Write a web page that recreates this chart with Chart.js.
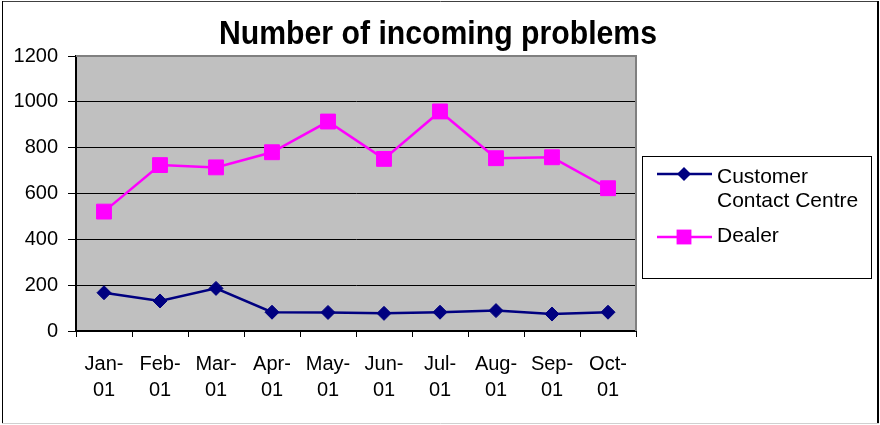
<!DOCTYPE html>
<html>
<head>
<meta charset="utf-8">
<script src="https://cdn.jsdelivr.net/npm/chart.js@4"></script>
<style>
html,body{margin:0;padding:0;background:#fff;}
#wrap{width:880px;height:425px;position:relative;}
</style>
</head>
<body>
<div id="wrap"><canvas id="c" width="880" height="425"></canvas></div>
<script>
const chartTitle = "Number of incoming problems";
const categories = [["Jan-","01"],["Feb-","01"],["Mar-","01"],["Apr-","01"],["May-","01"],["Jun-","01"],["Jul-","01"],["Aug-","01"],["Sep-","01"],["Oct-","01"]];
const customerContactCentre = [167, 131, 186, 82, 81, 77, 82, 89, 74, 82];
const dealer = [521, 724, 714, 780, 914, 751, 958, 754, 758, 623];
const seriesNames = [["Customer","Contact Centre"], ["Dealer"]];
const yTicks = [0, 200, 400, 600, 800, 1000, 1200];

const FONT = "'Liberation Sans', Arial, sans-serif";

const decor = {
  id: 'decor',
  beforeDraw(chart) {
    const ctx = chart.ctx, a = chart.chartArea;
    ctx.save();
    ctx.fillStyle = '#fff';
    ctx.fillRect(0, 0, chart.width, chart.height);
    ctx.fillStyle = '#C0C0C0';
    ctx.fillRect(a.left, a.top, a.right - a.left, a.bottom - a.top);
    ctx.restore();
  },
  beforeDatasetsDraw(chart) {
    const ctx = chart.ctx, a = chart.chartArea;
    ctx.save();
    ctx.strokeStyle = '#808080';
    ctx.lineWidth = 2;
    ctx.beginPath();
    ctx.moveTo(a.left, a.top);
    ctx.lineTo(a.right, a.top);
    ctx.lineTo(a.right, a.bottom);
    ctx.stroke();
    ctx.restore();
  },
  afterDraw(chart) {
    const ctx = chart.ctx;
    ctx.save();
    // outer border
    ctx.lineWidth = 1;
    ctx.strokeStyle = '#404040';
    ctx.beginPath(); ctx.moveTo(2, 1.5); ctx.lineTo(879, 1.5); ctx.stroke();
    ctx.strokeStyle = '#000';
    ctx.beginPath(); ctx.moveTo(2.5, 1); ctx.lineTo(2.5, 424); ctx.stroke();
    ctx.lineWidth = 2;
    ctx.beginPath(); ctx.moveTo(878, 1); ctx.lineTo(878, 424); ctx.stroke();
    ctx.lineWidth = 1;
    ctx.strokeStyle = '#d0d0d0';
    ctx.beginPath(); ctx.moveTo(2, 423.5); ctx.lineTo(879, 423.5); ctx.stroke();

    // title (slightly condensed, like the original)
    ctx.fillStyle = '#000';
    ctx.font = "bold 33px " + FONT;
    ctx.textAlign = 'center';
    ctx.textBaseline = 'alphabetic';
    const w = ctx.measureText(chartTitle).width;
    const sx = 438 / w;
    ctx.save();
    ctx.translate(438, 44);
    ctx.scale(sx, 1);
    ctx.fillText(chartTitle, 0, 0);
    ctx.restore();

    // legend
    ctx.fillStyle = '#fff';
    ctx.fillRect(642, 156, 230, 123);
    ctx.strokeStyle = '#000';
    ctx.lineWidth = 1;
    ctx.strokeRect(642.5, 156.5, 229, 122);
    const rows = [174, 237];
    const baselines = [182.5, 241.5];
    chart.data.datasets.forEach((ds, i) => {
      const y = rows[i];
      ctx.strokeStyle = ds.borderColor;
      ctx.lineWidth = ds.borderWidth;
      ctx.beginPath(); ctx.moveTo(657, y); ctx.lineTo(712, y); ctx.stroke();
      ctx.fillStyle = ds.pointBackgroundColor;
      ctx.beginPath();
      if (ds.pointStyle === 'rectRot') {
        const r = ds.pointRadius;
        ctx.moveTo(684 - r, y); ctx.lineTo(684, y - r); ctx.lineTo(684 + r, y); ctx.lineTo(684, y + r); ctx.closePath();
      } else {
        const h = ds.pointRadius * Math.SQRT1_2;
        ctx.rect(684 - h, y - h, 2 * h, 2 * h);
      }
      ctx.fill();
      ctx.fillStyle = '#000';
      ctx.font = "21px " + FONT;
      ctx.textAlign = 'left';
      ctx.textBaseline = 'alphabetic';
      seriesNames[i].forEach((t, j) => ctx.fillText(t, 717, baselines[i] + j * 24));
    });
    ctx.restore();
  }
};

new Chart(document.getElementById('c'), {
  type: 'line',
  data: {
    labels: categories,
    datasets: [
      {
        label: seriesNames[0].join(' '),
        data: customerContactCentre,
        borderColor: '#000080',
        backgroundColor: '#000080',
        pointBackgroundColor: '#000080',
        pointBorderColor: '#000080',
        borderWidth: 2.5,
        pointStyle: 'rectRot',
        pointRadius: 7,
        pointBorderWidth: 1,
        tension: 0
      },
      {
        label: seriesNames[1].join(' '),
        data: dealer,
        borderColor: '#FF00FF',
        backgroundColor: '#FF00FF',
        pointBackgroundColor: '#FF00FF',
        pointBorderColor: '#FF00FF',
        borderWidth: 2.5,
        pointStyle: 'rect',
        pointRadius: 10.5,
        pointBorderWidth: 1,
        tension: 0
      }
    ]
  },
  options: {
    responsive: false,
    animation: false,
    devicePixelRatio: 1,
    layout: { padding: { left: 0, top: 56, right: 244, bottom: 0 } },
    plugins: { legend: { display: false }, title: { display: false }, tooltip: { enabled: false } },
    scales: {
      x: {
        offset: true,
        grid: { offset: true, drawOnChartArea: false, drawTicks: true, tickLength: 6, color: '#000', lineWidth: 1 },
        border: { display: true, color: '#000', width: 2 },
        ticks: { color: '#000', font: { family: FONT, size: 20, lineHeight: 1.33 }, padding: 14, maxRotation: 0, autoSkip: false },
        afterFit(s) { s.height = 94; }
      },
      y: {
        min: 0, max: 1200,
        afterBuildTicks(s) { s.ticks = yTicks.map(v => ({ value: v })); },
        grid: { color: '#000', lineWidth: 1, tickLength: 8, drawTicks: true },
        border: { display: true, color: '#000', width: 2 },
        ticks: { color: '#000', font: { family: FONT, size: 20 }, padding: 10, callback: v => String(v) },
        afterFit(s) { s.width = 76; }
      }
    }
  },
  plugins: [decor]
});
</script>
</body>
</html>
